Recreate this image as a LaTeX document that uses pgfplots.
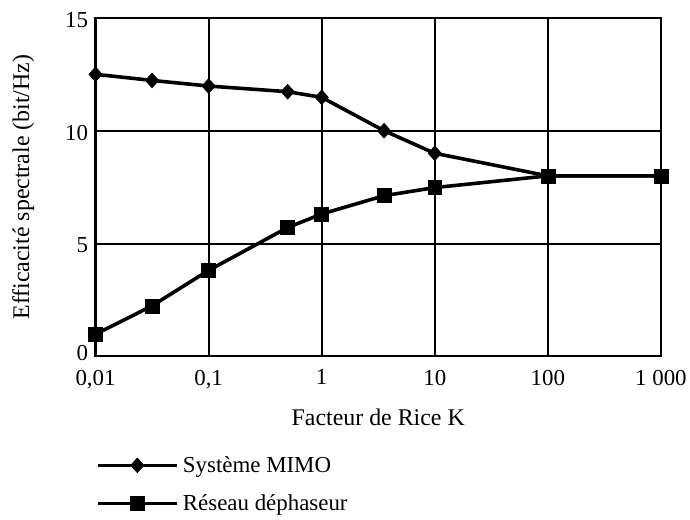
\documentclass[border=0pt]{standalone}
\usepackage{fontspec}
\setmainfont{Liberation Serif}
\usepackage{pgfplots}
\pgfplotsset{compat=1.18}
\begin{document}
\begin{tikzpicture}
\begin{axis}[
  scale only axis,
  width=568pt, height=340pt,
  xmode=log, log basis x=10,
  xmin=0.01, xmax=1000, ymin=0, ymax=15,
  xtick={0.01,0.1,1,10,100,1000},
  xticklabels={{0,01},{0,1},1,10,100,{1 000}},
  ytick={0,5,10,15},
  yticklabels={\raisebox{10pt}{0},5,10,15},
  xminorticks=false,
  major tick length=0pt,
  grid=major,
  major grid style={black, line width=2pt},
  axis line style={black, line width=2.2pt},
  /pgf/number format/assume math mode=true,
  tick label style={font=\fontsize{23}{26}\selectfont},
  xticklabel style={yshift=-10pt},
  yticklabel style={xshift=-4pt, yshift=-2pt},
  label style={font=\fontsize{24}{27}\selectfont},
  xlabel={Facteur de Rice K},
  ylabel={Efficacité spectrale (bit/Hz)},
  xlabel style={at={(axis description cs:0.5,-0.18)}, anchor=center},
  ylabel style={at={(axis description cs:-0.128,0.5)}, anchor=center},
  legend style={at={(axis description cs:0,-0.284)}, anchor=north west, draw=none, fill=none,
    font=\fontsize{23}{26}\selectfont, row sep=13pt, inner sep=0pt,
    nodes={inner sep=4pt}},
  legend cell align=left,
  legend image code/.code={\draw[mark repeat=2,mark phase=2,#1] plot coordinates {(0pt,0pt) (40pt,0pt) (80pt,0pt)};},
  clip=false,
]
\addplot[black, line width=3.6pt, mark=diamond*, mark size=7.5pt, mark options={solid, line width=0.5pt, xscale=1.2}] coordinates {
  (0.01,12.5) (0.0316,12.23) (0.1,11.98) (0.5,11.73) (1,11.48) (3.56,10.0) (10,9.0) (100,8.0) (1000,8.0)
};
\addlegendentry{Système MIMO}
\addplot[black, line width=3.6pt, mark=square*, mark size=7pt, mark options={solid, line width=0.5pt}] coordinates {
  (0.01,0.98) (0.0316,2.24) (0.1,3.81) (0.5,5.71) (1,6.31) (3.56,7.12) (10,7.48) (100,8.0) (1000,8.0)
};
\addlegendentry{Réseau déphaseur}
\end{axis}
\path ([xshift=-96pt, yshift=-164pt]current axis.south west) rectangle ++(690pt,522pt);
\end{tikzpicture}
\end{document}
